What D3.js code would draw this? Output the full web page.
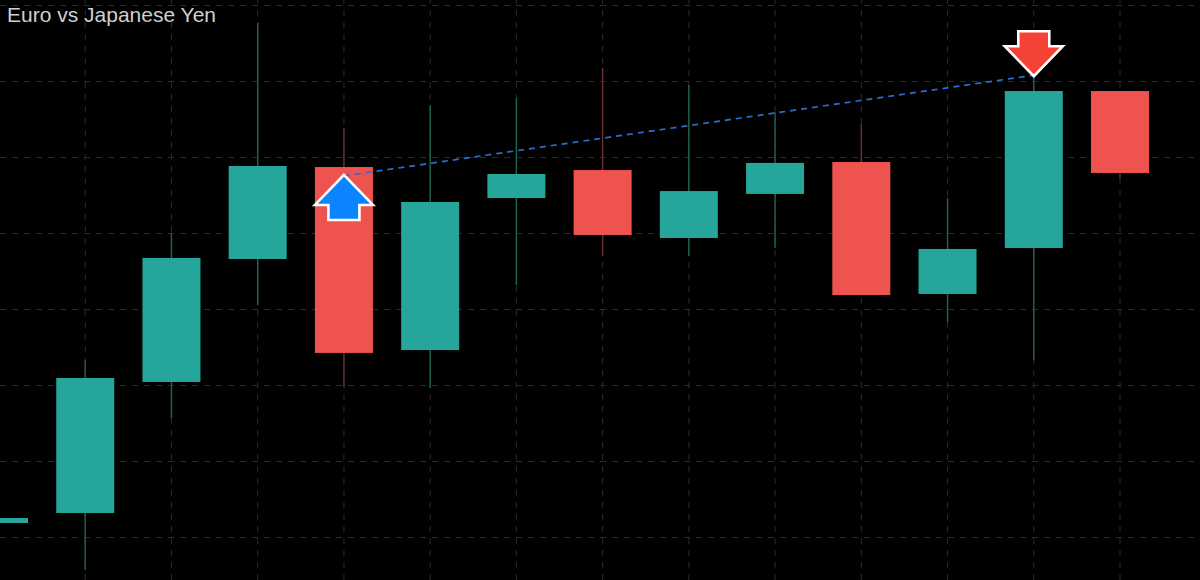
<!DOCTYPE html>
<html>
<head>
<meta charset="utf-8">
<script src="https://cdn.jsdelivr.net/npm/d3@7"></script>
<style>
html,body{margin:0;padding:0;background:#000;overflow:hidden}
svg{display:block}
</style>
</head>
<body>
<svg id="chart" width="1200" height="580"></svg>
<script>
const titleText = "Euro vs Japanese Yen";
const opens  = [128.092,128.158,129.020,129.829,130.434,129.230,130.230,130.414,129.967,130.257,130.467,129.599,129.901,130.934];
const closes = [128.125,129.046,129.836,130.441,129.211,130.204,130.388,129.987,130.276,130.461,129.592,129.895,130.934,130.395];
const highs  = [128.125,129.164,130.000,131.382,130.691,130.842,130.888,131.086,130.974,130.796,130.717,130.230,131.072,130.934];
const lows   = [128.092,127.783,128.783,129.526,128.987,128.980,129.658,129.849,129.849,129.901,129.592,129.414,129.164,130.362];
const priceTicks = [128,128.5,129,129.5,130,130.5,131,131.5];
const buyIndex = 4, buyPrice = 130.382, sellIndex = 12, sellPrice = 131.038;

const svg = d3.select("#chart");
const x = d3.scaleLinear().domain([0,13]).range([-1,1120]);
const y = d3.scaleLinear().domain([128,131.5]).range([537,5]);
const idx = d3.range(opens.length);
const bodyW = 58;

svg.append("rect").attr("width",1200).attr("height",580).attr("fill","#000");

const gridStyle = g => {
  g.select(".domain").remove();
  g.selectAll("text").remove();
  g.selectAll("line").attr("stroke","#2b2b2b").attr("stroke-width",1).attr("stroke-dasharray","6 6");
};
svg.append("g").call(d3.axisLeft(y).tickValues(priceTicks).tickSize(-1200).tickFormat("")).call(gridStyle);
svg.append("g").attr("transform","translate(-0.5,580)")
   .call(d3.axisBottom(x).tickValues(idx).tickSize(-580).tickFormat("")).call(gridStyle);

const up = i => closes[i] >= opens[i];
svg.append("g").selectAll("line").data(idx).join("line")
  .attr("x1",i=>x(i)).attr("x2",i=>x(i))
  .attr("y1",i=>y(highs[i])).attr("y2",i=>y(lows[i]))
  .attr("stroke",i=>up(i)?"#1f6650":"#6b3232").attr("stroke-width",1.4);
svg.append("g").selectAll("rect").data(idx).join("rect")
  .attr("x",i=>x(i)-bodyW/2).attr("width",bodyW)
  .attr("y",i=>y(Math.max(opens[i],closes[i])))
  .attr("height",i=>Math.abs(y(opens[i])-y(closes[i])))
  .attr("fill",i=>up(i)?"#26a69a":"#ef5350");

svg.append("line")
  .attr("x1",x(buyIndex)).attr("y1",y(buyPrice)+1)
  .attr("x2",x(sellIndex)).attr("y2",y(sellPrice))
  .attr("stroke","#2a6fd0").attr("stroke-width",1.7).attr("stroke-dasharray","6 5");

const arrow = d3.line();
const arrowShape = arrow([[0,0],[29,30],[15.5,30],[15.5,45],[-15.5,45],[-15.5,30],[-29,30]])+"Z";
svg.append("path").attr("d",arrowShape)
  .attr("transform",`translate(${x(buyIndex)},${y(buyPrice)})`)
  .attr("fill","#0a84ff").attr("stroke","#fff").attr("stroke-width",2.6);
svg.append("path").attr("d",arrowShape)
  .attr("transform",`translate(${x(sellIndex)},${y(sellPrice)+1}) scale(1,-1)`)
  .attr("fill","#f44336").attr("stroke","#fff").attr("stroke-width",2.6);

svg.append("text").attr("x",7).attr("y",22).text(titleText)
  .attr("fill","#cfcfcf").attr("font-family","'Liberation Sans', Arial, sans-serif")
  .attr("font-size",21);
</script>
</body>
</html>
